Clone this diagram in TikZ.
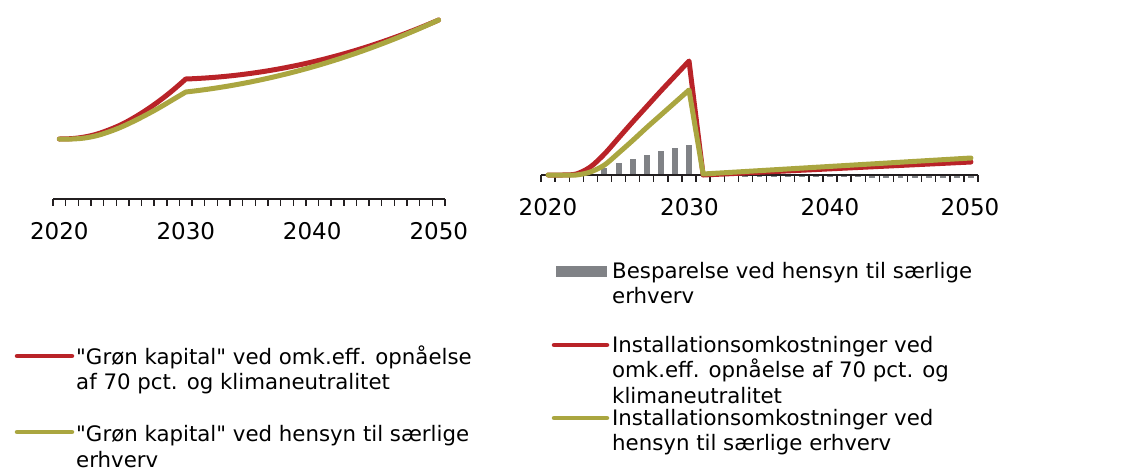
\documentclass[tikz,border=0pt]{standalone}
\usepackage{fontspec}
\setmainfont{DejaVu Sans}
\definecolor{cred}{RGB}{185,35,40}
\definecolor{cgreen}{RGB}{170,166,64}
\definecolor{cgray}{RGB}{128,130,134}
\definecolor{caxis}{RGB}{35,31,32}
\begin{document}
\begin{tikzpicture}[x=1pt,y=-1pt,
  series/.style={line width=5pt,line cap=round,line join=round},
  axisline/.style={draw=caxis,line width=2pt},
  tickline/.style={draw=caxis,line width=1.4pt},
  ticklabel/.style={font=\fontsize{23}{27}\selectfont,anchor=base,inner sep=0pt},
  legtext/.style={font=\fontsize{21.3}{25.7}\selectfont,anchor=base west,align=left,inner sep=0pt},
  bar/.style={fill=cgray,draw=none}]
\useasboundingbox (0,0) rectangle (1135,475);

% ---------------- Left chart ----------------
\draw[axisline] (53,199) -- (445,199);
\foreach \k in {0,...,31}{
  \draw[tickline] ({53+\k*392/31},199) -- ({53+\k*392/31},206);
}
\node[ticklabel] (l2020) at (59.3,239) {2020};
\node[ticklabel] (l2030) at (185.8,239) {2030};
\node[ticklabel] (l2040) at (312.2,239) {2040};
\node[ticklabel] (l2050) at (438.8,239) {2050};

\begin{scope}[shift={(59.32,0)},x=12.645pt]
\draw[series,cred] plot[smooth,tension=0.6] coordinates {(0,139) (1,138.6) (2,137) (3,134) (4,129.5) (5,124) (6,117) (7,109) (8,100) (9,90) (10,79)}
  -- plot[domain=0:20,samples=41,variable=\t] ({10+\t},{79-0.45*\t-0.125*\t*\t});
\draw[series,cgreen] plot[smooth,tension=0.6] coordinates {(0,139) (1,139) (2,138) (3,135.5) (4,131.5) (5,126.5) (6,120.5) (7,114) (8,107) (9,99.5) (10,92)}
  -- plot[domain=0:20,samples=41,variable=\t] ({10+\t},{92-1.4*\t-0.11*\t*\t});
\end{scope}

% ---------------- Right chart ----------------
\begin{scope}[shift={(548.05,0)},x=14.097pt]
\foreach \yr/\top in {4/168,5/163,6/159,7/155,8/151,9/148,10/145}{
  \fill[bar] (\yr-0.21,175) rectangle (\yr+0.21,\top);
}
\foreach \yr in {14,...,30}{
  \fill[bar] (\yr-0.21,175) rectangle (\yr+0.21,{177+0.06*(\yr-14)});
}
\end{scope}
\draw[axisline] (541,175) -- (978,175);
\foreach \k in {0,...,31}{
  \draw[tickline] ({541+\k*437/31},175) -- ({541+\k*437/31},182);
}
\node[ticklabel] (r2020) at (548,215) {2020};
\node[ticklabel] (r2030) at (689.5,215) {2030};
\node[ticklabel] (r2040) at (830,215) {2040};
\node[ticklabel] (r2050) at (970,215) {2050};

\begin{scope}[shift={(548.05,0)},x=14.097pt]
\draw[series,cred] plot[smooth,tension=0.5] coordinates {(0,175) (1,175) (2,174) (3,167) (4,154) (5,138) (6,122) (7,106.5) (8,91) (9,76) (10,61)}
  -- (11,175) -- (30,162);
\draw[series,cgreen] plot[smooth,tension=0.5] coordinates {(0,175) (1,175) (2,175) (3,172) (4,165) (5,153) (6,140.5) (7,127.5) (8,115) (9,102.5) (10,90)}
  -- (11,174) -- (30,158);
\end{scope}

% ---------------- Left legend ----------------
\coordinate (lgA1) at (17,356);
\coordinate (lgA2) at (72,356);
\draw[series,cred,line width=4.5pt] (lgA1) -- (lgA2);
\node[legtext] (lgAt) at (76,389.7) {\textquotedbl Grøn kapital\textquotedbl{} ved omk.eff. opnåelse\\af 70 pct. og klimaneutralitet};
\coordinate (lgB1) at (17,432);
\coordinate (lgB2) at (72,432);
\draw[series,cgreen,line width=4.5pt] (lgB1) -- (lgB2);
\node[legtext] (lgBt) at (76,467.2) {\textquotedbl Grøn kapital\textquotedbl{} ved hensyn til særlige\\erhverv};

% ---------------- Right legend ----------------
\fill[bar] (556,266) rectangle (607,277);
\node[legtext] (rgAt) at (612,303.7) {Besparelse ved hensyn til særlige\\erhverv};
\coordinate (rgB1) at (554,345);
\coordinate (rgB2) at (607,345);
\draw[series,cred,line width=4.5pt] (rgB1) -- (rgB2);
\node[legtext] (rgBt) at (612,403.4) {Installationsomkostninger ved\\omk.eff. opnåelse af 70 pct. og\\klimaneutralitet};
\coordinate (rgC1) at (554,418);
\coordinate (rgC2) at (607,418);
\draw[series,cgreen,line width=4.5pt] (rgC1) -- (rgC2);
\node[legtext] (rgCt) at (612,450.7) {Installationsomkostninger ved\\hensyn til særlige erhverv};
\end{tikzpicture}
\end{document}
